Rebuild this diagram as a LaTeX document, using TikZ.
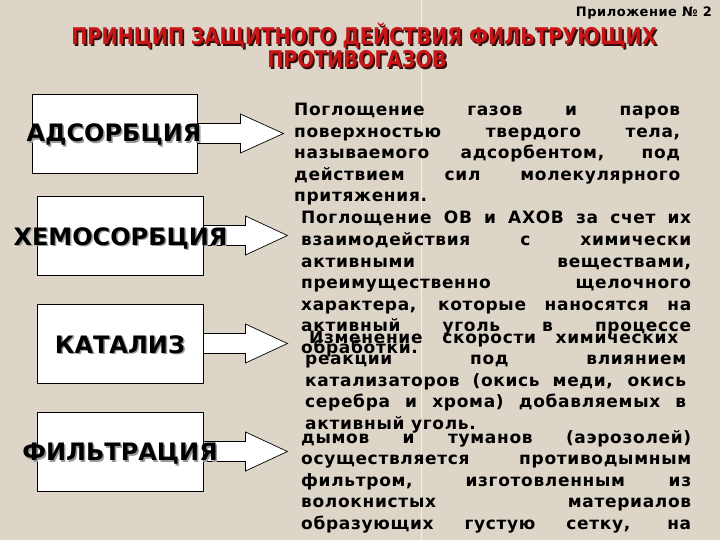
\documentclass[tikz,border=0pt]{standalone}
\usepackage{fontspec}
\setmainfont{DejaVu Sans}
\newfontfamily\dvs{DejaVu Sans}
\newfontfamily\dvsl{DejaVu Sans}[LetterSpace=4]
\newfontfamily\dvsn{DejaVu Sans}[FakeStretch=0.84]
\usetikzlibrary{calc}
\definecolor{bg}{RGB}{221,213,199}
\definecolor{titred}{RGB}{200,22,22}
\definecolor{titshadow}{RGB}{55,12,12}
\newcommand\jst[2]{\makebox[#1][s]{#2}}
\begin{document}
\begin{tikzpicture}[x=1pt,y=-1pt,
  box/.style={draw=black,line width=0.9pt,fill=white,minimum width=165pt,minimum height=79pt,inner sep=0},
  blk/.style={draw=black,line width=0.7pt,fill=white,line join=miter},
  lab/.style={font=\dvs\bfseries\fontsize{24}{28}\selectfont,inner sep=0,anchor=base,text=black},
  labsh/.style={lab,text=black!40},
  tl/.style={font=\dvsn\bfseries\fontsize{23}{27}\selectfont,inner sep=0,anchor=base,text=titred},
  tlsh/.style={tl,text=titshadow},
  bl/.style={font=\dvsl\bfseries\fontsize{17}{20}\selectfont,inner sep=0,anchor=base west},
]
\fill[bg] (0,0) rectangle (720,540);
\useasboundingbox (0,0) rectangle (720,540);
\draw[white,opacity=0.6,line width=0.8pt] (421,0) -- (421,540);

% header
\node[font=\dvsl\bfseries\fontsize{13}{15}\selectfont,inner sep=0,anchor=base east] (app) at (712,17) {Приложение № 2};
\node[tlsh] (t1s) at (365.8,46.8) {ПРИНЦИП ЗАЩИТНОГО ДЕЙСТВИЯ ФИЛЬТРУЮЩИХ};
\node[tl]   (t1)  at (364,45) {ПРИНЦИП ЗАЩИТНОГО ДЕЙСТВИЯ ФИЛЬТРУЮЩИХ};
\node[tlsh] (t2s) at (358.8,69.8) {ПРОТИВОГАЗОВ};
\node[tl]   (t2)  at (357,68) {ПРОТИВОГАЗОВ};

% boxes
\node[box] (b1) at (114.5,133.5) {};
\node[box,minimum width=166pt] (b2) at (120,235.5) {};
\node[box,minimum width=166pt] (b3) at (120,343.5) {};
\node[box,minimum width=166pt] (b4) at (120,451.5) {};

% block arrows
\draw[blk] ($(b1.east)+(0,-10)$) -- ++(43,0) -- ++(0,-9.5) -- ($(b1.east)+(86,0)$) -- ($(b1.east)+(43,19.5)$) -- ++(0,-9.5) -- ($(b1.east)+(0,10)$) -- cycle;
\foreach \b in {b2,b3,b4}{
  \draw[blk] ($(\b.east)+(0,-10)$) -- ++(42,0) -- ++(0,-9.5) -- ($(\b.east)+(84,0)$) -- ($(\b.east)+(42,19.5)$) -- ++(0,-9.5) -- ($(\b.east)+(0,10)$) -- cycle;
}

% labels
\node[labsh] (l1s) at (115.5,143.5) {АДСОРБЦИЯ};
\node[lab]   (l1)  at (114,142) {АДСОРБЦИЯ};
\node[labsh] (l2s) at (122,247) {ХЕМОСОРБЦИЯ};
\node[lab]   (l2)  at (120.5,245.5) {ХЕМОСОРБЦИЯ};
\node[labsh] (l3s) at (121.5,354.5) {КАТАЛИЗ};
\node[lab]   (l3)  at (120,353) {КАТАЛИЗ};
\node[labsh] (l4s) at (121.5,462) {ФИЛЬТРАЦИЯ};
\node[lab]   (l4)  at (120,460.5) {ФИЛЬТРАЦИЯ};

% block 1
\node[bl] (a1) at (294,116)   {\jst{386pt}{Поглощение газов и паров}};
\node[bl] (a2) at (294,137.5) {\jst{386pt}{поверхностью твердого тела,}};
\node[bl] (a3) at (294,159)   {\jst{386pt}{называемого адсорбентом, под}};
\node[bl] (a4) at (294,180.5) {\jst{386pt}{действием сил молекулярного}};
\node[bl] (a5) at (294,202)   {притяжения.};

% block 2
\node[bl] (c1) at (301,224)   {\jst{390pt}{Поглощение ОВ и АХОВ за счет их}};
\node[bl] (c2) at (301,245.5) {\jst{390pt}{взаимодействия с химически}};
\node[bl] (c3) at (301,267)   {\jst{390pt}{активными веществами,}};
\node[bl] (c4) at (301,288.5) {\jst{390pt}{преимущественно щелочного}};
\node[bl] (c5) at (301,310)   {\jst{390pt}{характера, которые наносятся на}};
\node[bl] (c6) at (301,331.5) {\jst{390pt}{активный уголь в процессе}};
\node[bl] (c7) at (301,353)   {обработки.};

% block 3
\node[bl] (d1) at (309,343)   {\jst{369pt}{Изменение скорости химических}};
\node[bl] (d2) at (305,364.5) {\jst{381pt}{реакции под влиянием}};
\node[bl] (d3) at (305,386)   {\jst{381pt}{катализаторов (окись меди, окись}};
\node[bl] (d4) at (305,407.5) {\jst{381pt}{серебра и хрома) добавляемых в}};
\node[bl] (d5) at (305,429)   {активный уголь.};

% block 4
\node[bl] (e1) at (301,443)   {\jst{390pt}{дымов и туманов (аэрозолей)}};
\node[bl] (e2) at (301,464.5) {\jst{390pt}{осуществляется противодымным}};
\node[bl] (e3) at (301,486)   {\jst{390pt}{фильтром, изготовленным из}};
\node[bl] (e4) at (301,507.5) {\jst{390pt}{волокнистых материалов}};
\node[bl] (e5) at (301,529)   {\jst{390pt}{образующих густую сетку, на}};
\end{tikzpicture}
\end{document}
